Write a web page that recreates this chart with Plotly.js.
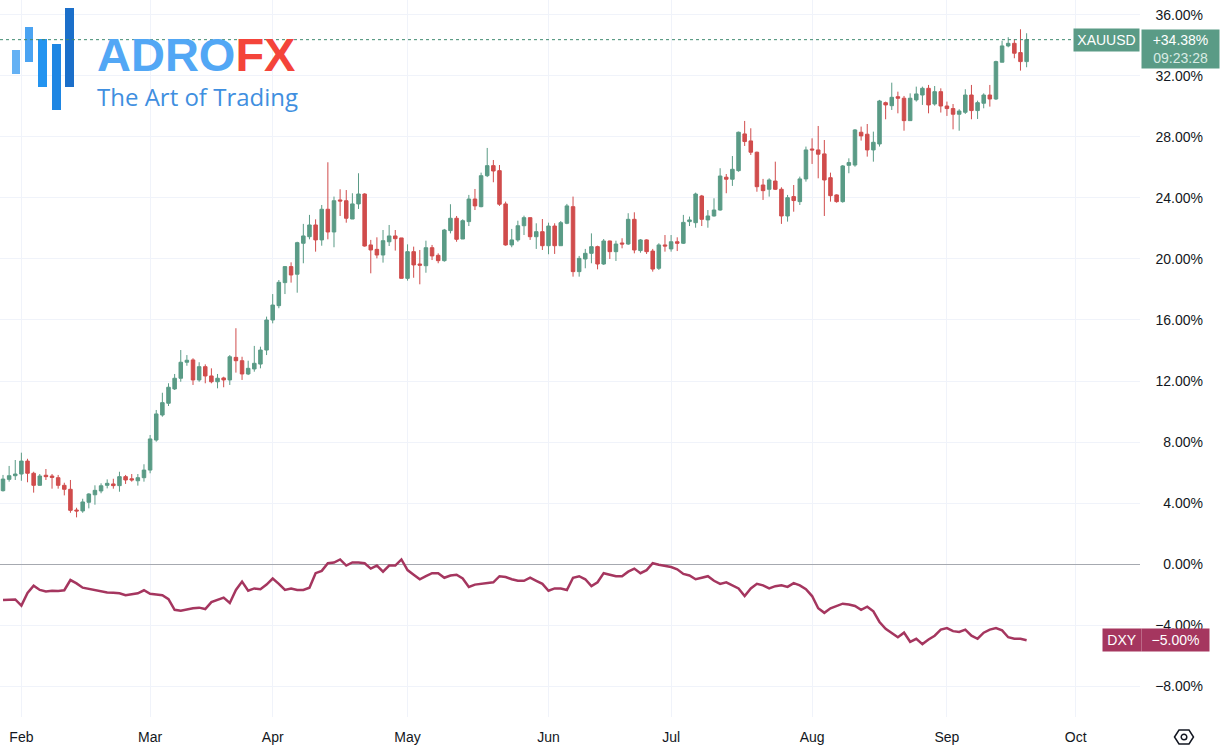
<!DOCTYPE html>
<html>
<head>
<meta charset="utf-8">
<script src="https://cdn.plot.ly/plotly-3.0.1.min.js"></script>
<style>html,body{margin:0;padding:0;background:#fff;}#chart{width:1220px;height:752px;}</style>
</head>
<body>
<div id="chart"></div>
<script>
// ---- data (percent change, XAUUSD daily candles and DXY) ----
const startDate = '2024-01-29';
const holidays = ['2024-03-29'];
const xauOpen = [4.81,5.55,5.79,5.90,6.75,5.95,5.16,5.82,5.77,5.66,
5.16,4.90,3.54,3.48,4.05,4.54,4.79,5.16,5.25,5.14,
5.73,5.59,5.46,5.66,6.16,8.13,9.77,10.54,11.48,12.18,
13.23,13.38,12.07,12.94,12.33,11.95,12.20,12.07,13.55,13.33,
12.46,12.79,13.11,14.03,16.00,16.94,18.45,19.50,19.00,21.03,
21.46,22.23,21.25,23.26,21.77,23.87,23.82,22.62,23.61,24.26,
20.92,20.63,20.26,21.13,21.51,21.38,18.73,20.48,19.67,19.56,
20.74,20.24,19.89,21.86,22.67,21.31,22.45,23.93,23.43,25.46,
26.12,25.79,23.61,20.92,21.25,22.18,22.71,21.46,21.79,20.87,
22.16,20.87,22.34,23.43,19.17,20.00,20.37,20.81,19.67,21.18,
20.48,21.05,20.98,22.60,20.55,21.25,20.52,19.39,20.92,20.66,
21.13,21.03,22.45,22.38,24.13,22.56,22.82,23.21,25.36,25.23,
25.79,28.20,27.74,27.00,24.85,24.57,25.11,24.57,22.82,24.09,
23.76,25.25,27.21,27.15,26.89,25.33,24.20,23.76,26.14,26.16,
28.31,28.18,27.15,27.54,30.25,30.05,30.64,30.54,29.07,30.43,
30.75,31.19,30.16,30.97,30.03,29.86,29.49,29.62,30.75,29.73,
30.21,30.75,30.49,32.90,33.97,34.14,33.53,32.94];
const xauHigh = [5.84,6.43,6.82,7.30,6.90,6.05,5.90,6.23,5.90,5.84,
5.33,5.51,3.69,4.28,4.64,5.16,5.29,5.55,5.59,6.05,
5.84,5.90,5.90,6.54,8.46,10.10,11.23,11.85,12.46,14.03,
13.70,13.49,13.23,13.09,12.83,12.46,12.28,13.70,15.46,13.59,
13.33,14.30,14.25,16.22,17.70,18.62,19.54,19.78,21.13,22.30,
22.89,22.60,23.54,26.34,24.09,24.57,24.52,24.31,25.62,24.31,
21.25,21.42,21.90,22.23,21.90,21.38,20.96,20.81,20.59,21.20,
20.92,20.37,21.97,23.59,22.82,22.60,24.20,24.59,25.66,27.28,
26.49,26.16,23.76,21.97,22.51,22.84,22.71,22.34,22.62,22.38,
22.34,22.49,23.61,24.09,20.20,20.66,21.68,20.87,21.31,21.20,
21.20,21.36,23.00,23.06,21.31,21.29,20.66,21.03,21.57,21.57,
21.42,22.89,22.78,24.35,24.20,23.21,23.98,25.95,25.57,26.75,
28.35,29.05,28.57,27.04,25.25,25.29,26.38,24.70,24.20,24.85,
25.40,27.37,27.91,28.72,27.80,25.66,24.24,26.16,26.60,28.52,
28.68,28.85,28.35,30.43,30.32,31.56,30.97,30.69,30.86,31.30,
31.30,31.41,31.34,31.19,30.32,30.16,29.82,31.13,31.41,30.38,
30.86,31.41,33.00,34.31,34.54,34.41,35.06,34.80];
const xauLow = [4.75,5.40,5.51,5.46,5.36,4.68,5.14,5.51,4.94,4.94,
4.50,3.36,3.06,3.36,3.65,3.89,4.64,4.96,4.94,4.74,
5.25,5.40,5.14,5.40,5.95,8.02,9.66,10.36,11.41,11.95,
13.00,11.74,11.95,11.85,11.85,11.52,11.59,11.74,12.55,12.07,
12.39,12.61,12.83,13.70,15.78,16.77,17.70,18.45,17.79,19.72,
21.29,20.48,20.87,21.29,20.77,22.82,22.38,22.62,23.28,20.81,
19.06,20.04,19.76,20.85,20.55,18.73,18.58,18.77,18.34,19.10,
19.93,19.72,19.82,21.68,21.13,21.31,22.16,23.21,23.39,25.37,
25.03,23.48,20.87,20.77,21.13,21.57,21.25,20.66,20.59,20.31,
20.33,20.87,22.28,18.84,18.84,19.39,19.72,19.32,19.61,20.00,
19.87,20.70,20.92,20.37,20.41,20.33,19.17,19.28,20.48,20.48,
20.52,20.98,22.16,22.05,22.16,22.05,22.78,23.17,24.31,24.79,
25.72,27.41,26.82,24.41,23.87,24.09,24.52,22.30,22.45,23.10,
23.54,25.07,26.23,25.29,22.82,23.76,23.69,23.69,25.62,26.05,
27.76,26.71,26.38,27.37,29.16,29.77,29.55,28.41,29.07,30.32,
30.10,29.55,30.05,29.60,29.38,28.50,28.41,29.51,29.16,29.18,
29.88,29.99,30.43,32.90,33.88,33.16,32.35,32.57];
const xauClose = [5.57,5.79,5.90,6.75,5.95,5.16,5.77,5.73,5.68,5.16,
4.90,3.52,3.48,4.07,4.59,4.83,5.13,5.29,5.14,5.73,
5.51,5.51,5.66,6.16,8.20,9.84,10.58,11.59,12.18,13.23,
13.36,12.07,12.94,12.33,11.95,12.18,12.07,13.59,13.33,12.46,
12.83,13.16,14.03,16.00,16.98,18.47,19.50,18.95,21.07,21.51,
22.23,21.25,23.26,21.77,23.82,23.80,22.67,23.61,24.26,20.85,
20.59,20.26,21.20,21.51,21.33,18.73,20.48,19.61,19.59,20.74,
20.20,19.89,21.90,22.67,21.29,22.51,23.93,23.48,25.46,26.12,
25.77,23.59,20.92,21.25,22.18,22.71,21.46,21.79,20.87,22.16,
20.87,22.38,23.48,19.17,20.04,20.37,20.81,19.67,21.18,20.48,
20.98,20.98,22.60,20.59,21.25,20.48,19.34,20.92,20.85,21.13,
21.03,22.40,22.56,24.26,22.60,22.82,23.21,25.44,25.23,25.88,
28.31,27.70,27.00,24.74,24.48,25.18,24.57,22.82,24.02,23.83,
25.25,27.15,27.15,26.87,25.18,24.15,23.76,26.10,26.32,28.46,
28.07,27.15,27.65,30.36,30.10,30.60,30.54,29.07,30.54,30.82,
31.19,30.10,30.97,30.03,29.86,29.49,29.70,30.75,29.73,30.25,
30.75,30.49,32.94,33.97,34.14,33.49,32.94,34.38];
const dxy = [-2.36,-2.34,-2.32,-2.73,-1.90,-1.42,-1.70,-1.80,-1.75,-1.77,
-1.72,-1.05,-1.27,-1.55,-1.62,-1.72,-1.80,-1.86,-1.88,-1.92,
-2.05,-2.00,-1.92,-1.72,-1.95,-2.00,-2.05,-2.30,-3.00,-3.06,
-2.97,-2.90,-2.86,-2.95,-2.50,-2.35,-2.20,-2.55,-1.70,-1.15,
-1.75,-1.60,-1.65,-1.35,-0.95,-1.30,-1.70,-1.60,-1.70,-1.70,
-1.55,-0.60,-0.45,0.05,0.10,0.30,-0.10,0.10,0.10,0.05,
-0.30,-0.10,-0.50,-0.10,-0.10,0.30,-0.40,-0.70,-1.00,-0.80,
-0.60,-0.60,-0.90,-0.75,-0.70,-0.95,-1.50,-1.35,-1.30,-1.25,
-1.20,-0.80,-0.85,-1.00,-1.10,-1.10,-0.90,-1.10,-1.30,-1.75,
-1.60,-1.60,-1.70,-0.90,-0.80,-1.00,-1.45,-1.20,-0.60,-0.70,
-0.80,-0.80,-0.50,-0.30,-0.60,-0.40,0.05,-0.05,-0.10,-0.20,
-0.35,-0.65,-0.75,-1.00,-0.90,-0.80,-1.10,-1.30,-1.20,-1.40,
-1.60,-2.10,-1.60,-1.30,-1.40,-1.60,-1.45,-1.40,-1.50,-1.25,
-1.40,-1.65,-2.10,-2.90,-3.20,-2.90,-2.75,-2.60,-2.65,-2.75,
-3.00,-2.80,-3.10,-3.80,-4.25,-4.50,-4.80,-4.50,-5.10,-4.90,
-5.25,-4.95,-4.70,-4.30,-4.20,-4.40,-4.45,-4.30,-4.70,-4.90,
-4.50,-4.30,-4.20,-4.35,-4.80,-4.90,-4.90,-5.00];
const monthTickDates = ['2024-02-01','2024-03-01','2024-04-01','2024-05-01','2024-06-03','2024-07-01','2024-08-01','2024-09-02','2024-10-01'];
const monthTickLabels = ['Feb','Mar','Apr','May','Jun','Jul','Aug','Sep','Oct'];
const yTicks = [-8,-4,0,4,8,12,16,20,24,28,32,36];
const symbolName = 'XAUUSD';
const dxyName = 'DXY';
const countdown = '09:23:28';

// ---- trading-day calendar (weekdays, minus holidays) ----
function tradingDays(start, n, skip) {
  const out = [];
  const d = new Date(start + 'T00:00:00Z');
  while (out.length < n) {
    const wd = d.getUTCDay();
    const s = d.toISOString().slice(0, 10);
    if (wd !== 0 && wd !== 6 && skip.indexOf(s) < 0) out.push(s);
    d.setUTCDate(d.getUTCDate() + 1);
  }
  return out;
}
const dates = tradingDays(startDate, xauClose.length, holidays);

const W = 1220, H = 752;
const px = v => v / W, py = v => 1 - v / H;
const GREEN = '#5a9b86', RED = '#d04c4c', DXYC = '#a5365f';
const FONT = 'Liberation Sans, Arial, sans-serif';

const lastClose = xauClose[xauClose.length - 1];
const lastDxy = dxy[dxy.length - 1];
const fmtPct = v => (v > 0 ? '+' : (v < 0 ? '\u2212' : '')) + Math.abs(v).toFixed(2) + '%';

const traces = [
  {
    type: 'candlestick', x: dates, open: xauOpen, high: xauHigh, low: xauLow, close: xauClose,
    increasing: {line: {color: GREEN, width: 1}, fillcolor: GREEN},
    decreasing: {line: {color: RED, width: 1}, fillcolor: RED},
    whiskerwidth: 0, hoverinfo: 'skip', showlegend: false, name: symbolName
  },
  {
    type: 'scatter', mode: 'lines', x: dates, y: dxy,
    line: {color: DXYC, width: 2.5}, hoverinfo: 'skip', showlegend: false, name: dxyName
  }
];

const logoBars = [
  {x0: 12, x1: 20, y0: 50, y1: 74, c: '#64b1f4'},
  {x0: 25, x1: 33, y0: 27, y1: 62, c: '#4aa3f2'},
  {x0: 38, x1: 47, y0: 39, y1: 87, c: '#2394f0'},
  {x0: 52, x1: 61, y0: 44, y1: 110, c: '#1e86e3'},
  {x0: 65, x1: 74, y0: 8, y1: 87, c: '#1b6fca'}
];
const shapes = logoBars.map(b => ({
  type: 'rect', xref: 'paper', yref: 'paper', x0: px(b.x0), x1: px(b.x1), y0: py(b.y1), y1: py(b.y0),
  fillcolor: b.c, line: {width: 0}, layer: 'above'
}));
// last-price dotted line
shapes.push({type: 'line', xref: 'paper', yref: 'y', x0: 0, x1: px(1072), y0: lastClose, y1: lastClose,
  line: {color: '#3f8a70', width: 1, dash: 'dot'}});
// settings hexagon icon
const hx = 1184, hy = 737;
shapes.push({type: 'path', xref: 'paper', yref: 'paper',
  path: 'M ' + px(hx - 9.5) + ' ' + py(hy) + ' L ' + px(hx - 5) + ' ' + py(hy - 7) + ' L ' + px(hx + 5) + ' ' + py(hy - 7) +
        ' L ' + px(hx + 9.5) + ' ' + py(hy) + ' L ' + px(hx + 5) + ' ' + py(hy + 7) + ' L ' + px(hx - 5) + ' ' + py(hy + 7) + ' Z',
  line: {color: '#131722', width: 1.5}});
shapes.push({type: 'circle', xref: 'paper', yref: 'paper', x0: px(hx - 2.8), x1: px(hx + 2.8), y0: py(hy + 2.8), y1: py(hy - 2.8),
  line: {color: '#131722', width: 1.5}});

const annotations = [
  {xref: 'paper', yref: 'paper', x: px(95), y: py(55), xanchor: 'left', yanchor: 'middle', showarrow: false,
   text: '<b>ADRO<span style="color:#f4443a">FX</span></b>', font: {family: FONT, size: 47, color: '#52a7f5'}},
  {xref: 'paper', yref: 'paper', x: px(95), y: py(97), xanchor: 'left', yanchor: 'middle', showarrow: false,
   text: 'The Art of Trading', font: {family: 'Open Sans, sans-serif', size: 24, color: '#3f8fe0'}},
  {xref: 'paper', yref: 'y', x: px(1073), y: lastClose, xanchor: 'left', yanchor: 'middle', showarrow: false,
   text: symbolName, bgcolor: GREEN, width: 61, height: 18, borderpad: 2, align: 'center',
   font: {family: FONT, size: 14, color: '#ffffff'}},
  {xref: 'paper', yref: 'y', x: px(1141), y: lastClose, yshift: 11, xanchor: 'left', yanchor: 'top', showarrow: false,
   text: fmtPct(lastClose) + '<br><span style="color:#d9ebe4">' + countdown + '</span>', bgcolor: GREEN,
   width: 73, height: 34, borderpad: 2, align: 'center', font: {family: FONT, size: 14, color: '#ffffff'}},
  {xref: 'paper', yref: 'y', x: px(1102), y: lastDxy, xanchor: 'left', yanchor: 'middle', showarrow: false,
   text: dxyName, bgcolor: DXYC, width: 34, height: 18, borderpad: 2, align: 'center',
   font: {family: FONT, size: 14, color: '#ffffff'}},
  {xref: 'paper', yref: 'y', x: px(1141), y: lastDxy, xanchor: 'left', yanchor: 'middle', showarrow: false,
   text: fmtPct(lastDxy), bgcolor: DXYC, width: 63, height: 18, borderpad: 2, align: 'center',
   font: {family: FONT, size: 14, color: '#ffffff'}}
];

const layout = {
  width: W, height: H,
  margin: {l: 0, r: 0, t: 0, b: 0},
  paper_bgcolor: '#ffffff', plot_bgcolor: '#ffffff',
  showlegend: false,
  xaxis: {
    type: 'date', domain: [0, 1140 / W], anchor: 'y',
    range: ['2024-01-26 12:14', '2024-10-15 12:00'],
    rangebreaks: [{bounds: ['sat', 'mon']}, {values: holidays}],
    rangeslider: {visible: false},
    tickmode: 'array', tickvals: monthTickDates, ticktext: monthTickLabels,
    showgrid: true, gridcolor: '#f0f3fa', gridwidth: 1,
    ticks: '', showline: false, zeroline: false,
    tickfont: {family: FONT, size: 14, color: '#131722'}, ticklabelstandoff: 10,
    fixedrange: true
  },
  yaxis: {
    domain: [1 - 717 / H, 1], anchor: 'free', position: 1203 / W, side: 'left',
    range: [-10.03, 36.98],
    tickmode: 'array', tickvals: yTicks, ticktext: yTicks.map(v => (v < 0 ? '\u2212' : '') + Math.abs(v).toFixed(2) + '%'),
    showgrid: true, gridcolor: '#f0f3fa', gridwidth: 1,
    zeroline: true, zerolinecolor: '#a6a9b0', zerolinewidth: 1,
    ticks: '', showline: false,
    tickfont: {family: FONT, size: 14, color: '#131722'},
    fixedrange: true
  },
  boxgap: 0.18,
  shapes: shapes,
  annotations: annotations
};

Plotly.newPlot('chart', traces, layout, {displayModeBar: false, staticPlot: true});
</script>
</body>
</html>
